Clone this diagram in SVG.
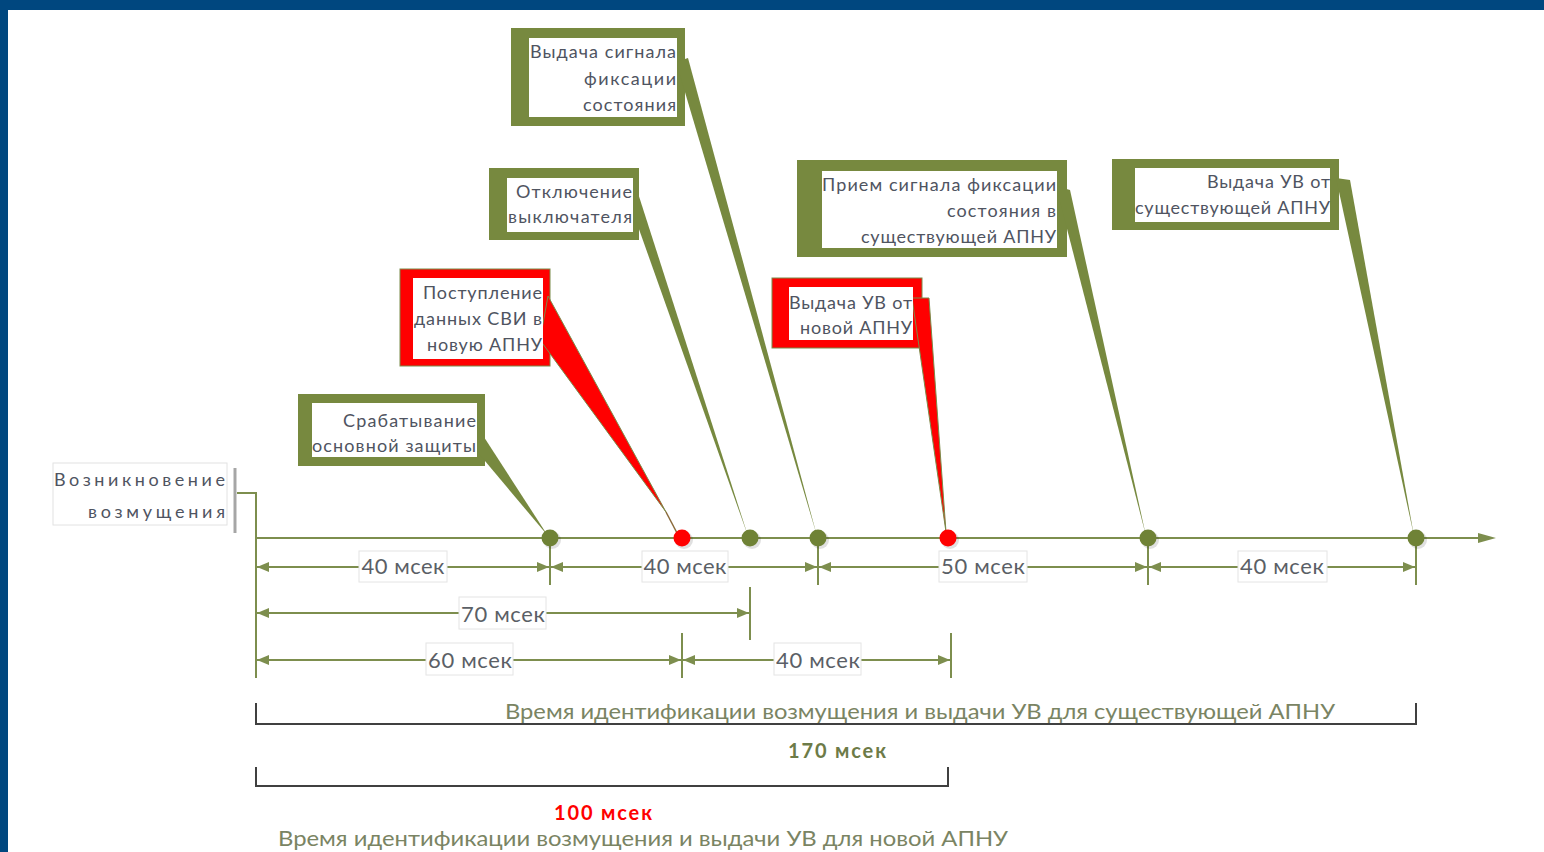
<svg xmlns="http://www.w3.org/2000/svg" width="1544" height="852" viewBox="0 0 1544 852">
<style>
.ol{fill:#77893F}
.wh{fill:#fff}
.red{fill:#FF0000}
.redtail{fill:#FF0000;stroke:#7A8B4A;stroke-width:1}
.t{font-family:Lato,"Liberation Sans",sans-serif;font-size:18px;fill:#4f5461;text-anchor:end}
.dl{font-family:Lato,"Liberation Sans",sans-serif;font-size:22px;fill:#5b5f66;text-anchor:middle}
.lb{fill:#fff;stroke:#e4e4e4;stroke-width:1}
.dim{stroke:#7D8E4E;stroke-width:2;fill:none}
.dima{stroke:#7D8E4E;stroke-width:2;fill:none;marker-start:url(#ar);marker-end:url(#ar)}
.tick{stroke:#7D8E4E;stroke-width:2}
.br{stroke:#404040;stroke-width:2;fill:none}
.dot{fill:#6F8236}
.rdot{fill:#FF0000}
.sh{fill:#000;opacity:.12}
.big{font-family:Lato,"Liberation Sans",sans-serif;font-size:21px;fill:#7a8463;text-anchor:middle}
</style>
<defs>
<marker id="ar" viewBox="0 0 12 10" refX="12" refY="5" markerWidth="12" markerHeight="10" markerUnits="userSpaceOnUse" orient="auto-start-reverse">
<path d="M0,0 L12,5 L0,10 z" fill="#7D8E4E"/>
</marker>
<marker id="axar" viewBox="0 0 18 10" refX="2" refY="5" markerWidth="18" markerHeight="10" markerUnits="userSpaceOnUse" orient="auto">
<path d="M0,0 L18,5 L0,10 z" fill="#7D8E4E"/>
</marker>
</defs>
<rect x="0" y="0" width="1544" height="852" fill="#fff"/>
<rect x="0" y="0" width="1544" height="10" fill="#00477F"/>
<rect x="0" y="0" width="8" height="852" fill="#00477F"/>

<g id="connectors">
<line x1="256" y1="538" x2="1480" y2="538" class="dim" marker-end="url(#axar)"/>
<polyline points="237,493 256,493 256,678" class="dim"/>
<line x1="235" y1="468" x2="235" y2="533" stroke="#a6a6a6" stroke-width="3"/>
<line x1="550" y1="538" x2="550" y2="585" class="tick"/>
<line x1="818" y1="538" x2="818" y2="585" class="tick"/>
<line x1="1148" y1="538" x2="1148" y2="585" class="tick"/>
<line x1="1416" y1="538" x2="1416" y2="585" class="tick"/>
<line x1="750" y1="587" x2="750" y2="640" class="tick"/>
<line x1="682" y1="633" x2="682" y2="678" class="tick"/>
<line x1="951" y1="633" x2="951" y2="678" class="tick"/>
<line x1="257" y1="567" x2="549" y2="567" class="dima"/>
<line x1="551" y1="567" x2="817" y2="567" class="dima"/>
<line x1="819" y1="567" x2="1147" y2="567" class="dima"/>
<line x1="1149" y1="567" x2="1415" y2="567" class="dima"/>
<line x1="257" y1="613" x2="749" y2="613" class="dima"/>
<line x1="257" y1="660" x2="681" y2="660" class="dima"/>
<line x1="683" y1="660" x2="950" y2="660" class="dima"/>
<polyline points="256,703 256,724 1416,724 1416,703" class="br"/>
<polyline points="256,767 256,786 948,786 948,767" class="br"/>
</g>

<g id="dim-labels">
<rect x="359" y="551" width="88" height="31" class="lb"/><text x="403" y="574" class="dl" textLength="83">40 мсек</text>
<rect x="642" y="551" width="86" height="31" class="lb"/><text x="685" y="574" class="dl" textLength="83">40 мсек</text>
<rect x="939" y="551" width="88" height="31" class="lb"/><text x="983" y="574" class="dl" textLength="84">50 мсек</text>
<rect x="1238" y="551" width="89" height="31" class="lb"/><text x="1282" y="574" class="dl" textLength="84">40 мсек</text>
<rect x="459" y="597" width="87" height="32" class="lb"/><text x="503" y="622" class="dl" textLength="84">70 мсек</text>
<rect x="426" y="643" width="87" height="32" class="lb"/><text x="470" y="668" class="dl" textLength="84">60 мсек</text>
<rect x="774" y="643" width="87" height="32" class="lb"/><text x="818" y="668" class="dl" textLength="84">40 мсек</text>
</g>

<g id="bottom-texts">
<text x="920" y="719" class="big" textLength="830" lengthAdjust="spacingAndGlyphs">Время идентификации возмущения и выдачи УВ для существующей АПНУ</text>
<text x="837" y="758" font-family="Lato,'Liberation Sans',sans-serif" font-size="20" font-weight="bold" fill="#6d7b48" text-anchor="middle" textLength="98">170 мсек</text>
<text x="603" y="820" font-family="Lato,'Liberation Sans',sans-serif" font-size="20" font-weight="bold" fill="#FF0000" text-anchor="middle" textLength="98">100 мсек</text>
<text x="643" y="846" class="big" textLength="730" lengthAdjust="spacingAndGlyphs">Время идентификации возмущения и выдачи УВ для новой АПНУ</text>
</g>

<g id="start-label">
<rect x="53" y="463" width="174" height="62" fill="#fff" stroke="#e2e2e2" stroke-width="1"/>
<text x="225" y="486" class="t" font-size="21" textLength="171">Возникновение</text>
<text x="225" y="518" class="t" font-size="21" textLength="137">возмущения</text>
</g>

<g id="c1">
<rect x="298" y="394" width="187" height="72" class="ol"/>
<polygon points="448,417 471,417 548,536" class="ol"/>
<rect x="312" y="403" width="165" height="54" class="wh"/>
<text x="476" y="427" class="t" textLength="133">Срабатывание</text>
<text x="476" y="452" class="t" textLength="164">основной защиты</text>
</g>

<g id="c2">
<rect x="400" y="269" width="150" height="97" class="red" stroke="#7A8B4A" stroke-width="1"/>
<polygon points="540,340 548,296 666,512" class="redtail"/>
<line x1="666" y1="512" x2="677" y2="533" stroke="#8a6a3a" stroke-width="1.5"/>
<rect x="413" y="278" width="130" height="81" class="wh"/>
<text x="542" y="299" class="t" textLength="119">Поступление</text>
<text x="542" y="325" class="t" textLength="128">данных СВИ в</text>
<text x="542" y="351" class="t" textLength="115">новую АПНУ</text>
</g>

<g id="c3">
<rect x="489" y="168" width="150" height="72" class="ol"/>
<polygon points="624,187 636,187 748,536" class="ol"/>
<rect x="507" y="178" width="126" height="54" class="wh"/>
<text x="632" y="198" class="t" textLength="116">Отключение</text>
<text x="632" y="223" class="t" textLength="124">выключателя</text>
</g>

<g id="c4">
<rect x="511" y="28" width="174" height="98" class="ol"/>
<polygon points="676,62 688,58 817,536" class="ol"/>
<rect x="529" y="38" width="148" height="79" class="wh"/>
<text x="676" y="58" class="t" textLength="146">Выдача сигнала</text>
<text x="676" y="85" class="t" textLength="92">фиксации</text>
<text x="676" y="111" class="t" textLength="93">состояния</text>
</g>

<g id="c5">
<rect x="772" y="278" width="150" height="70" class="red" stroke="#7A8B4A" stroke-width="1"/>
<polygon points="912,298 929,298 946,532" class="redtail"/>
<rect x="789" y="287" width="124" height="53" class="wh"/>
<text x="912" y="309" class="t" textLength="123">Выдача УВ от</text>
<text x="912" y="334" class="t" textLength="112">новой АПНУ</text>
</g>

<g id="c6">
<rect x="797" y="160" width="270" height="97" class="ol"/>
<polygon points="1056,186 1070,190 1146,536" class="ol"/>
<rect x="822" y="171" width="235" height="77" class="wh"/>
<text x="1056" y="191" class="t" textLength="234">Прием сигнала фиксации</text>
<text x="1056" y="217" class="t" textLength="109">состояния в</text>
<text x="1056" y="243" class="t" textLength="195">существующей АПНУ</text>
</g>

<g id="c7">
<rect x="1112" y="159" width="227" height="71" class="ol"/>
<polygon points="1336,178 1350,180 1414,536" class="ol"/>
<rect x="1135" y="168" width="195" height="54" class="wh"/>
<text x="1330" y="188" class="t" textLength="123">Выдача УВ от</text>
<text x="1330" y="214" class="t" textLength="195">существующей АПНУ</text>
</g>

<g id="dots">
<circle cx="552" cy="540" r="9" class="sh"/><circle cx="550" cy="538" r="8.5" class="dot"/>
<circle cx="684" cy="540" r="9" class="sh"/><circle cx="682" cy="538" r="8.5" class="rdot"/>
<circle cx="752" cy="540" r="9" class="sh"/><circle cx="750" cy="538" r="8.5" class="dot"/>
<circle cx="820" cy="540" r="9" class="sh"/><circle cx="818" cy="538" r="8.5" class="dot"/>
<circle cx="950" cy="540" r="9" class="sh"/><circle cx="948" cy="538" r="8.5" class="rdot"/>
<circle cx="1150" cy="540" r="9" class="sh"/><circle cx="1148" cy="538" r="8.5" class="dot"/>
<circle cx="1418" cy="540" r="9" class="sh"/><circle cx="1416" cy="538" r="8.5" class="dot"/>
</g>
</svg>
